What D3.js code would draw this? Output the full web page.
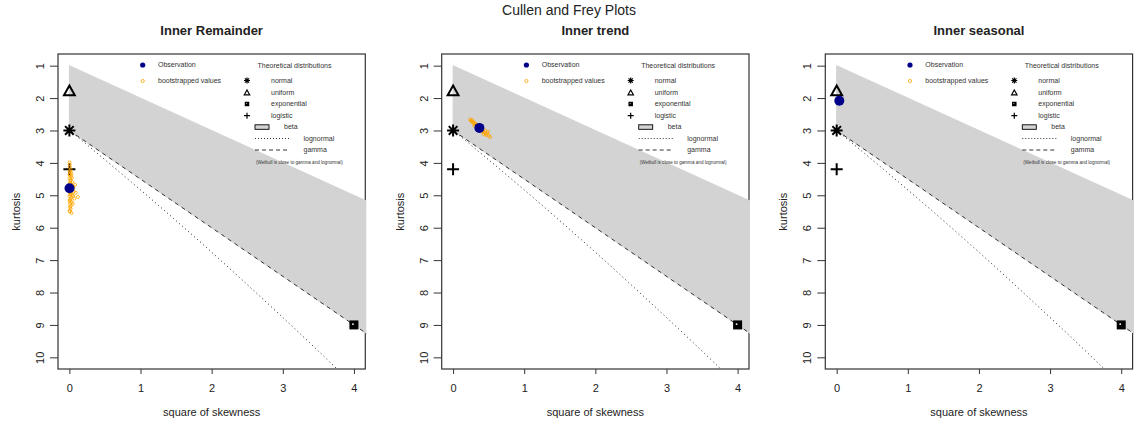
<!DOCTYPE html>
<html>
<head>
<meta charset="utf-8">
<script src="https://cdn.jsdelivr.net/npm/d3@7"></script>
<style>
  body { margin: 0; background: #fff; }
  text { font-family: "Liberation Sans", Arial, sans-serif; }
</style>
</head>
<body>
<div id="chart"></div>
<script>
// ---- data ----
var mainTitle = "Cullen and Frey Plots";
var panelTitles = ["Inner Remainder", "Inner trend", "Inner seasonal"];
var xTicks = [0, 1, 2, 3, 4];
var yTicks = [1, 2, 3, 4, 5, 6, 7, 8, 9, 10];

// observed [square of skewness, kurtosis] per panel
var observations = [[0.002, 4.78], [0.37, 2.92], [0.037, 2.08]];

// bootstrapped values per panel
var bootRemainder = [[0.002,4.35],[0.010,4.62],[0.004,4.91],[0.021,5.08],[0.001,4.48],[0.015,4.77],[0.033,5.21],[0.006,4.12],
  [0.027,4.95],[0.009,5.36],[0.045,4.70],[0.003,5.48],[0.018,4.29],[0.052,5.02],[0.012,4.55],[0.002,3.98],[0.038,4.84],
  [0.007,5.15],[0.024,4.41],[0.060,4.88],[0.011,5.27],[0.004,4.66],[0.030,5.55],[0.016,4.20],[0.001,5.03],[0.042,4.59],
  [0.008,4.79],[0.020,5.33],[0.070,5.10],[0.005,4.38],[0.026,4.72],[0.013,4.97],[0.003,5.19],[0.035,4.46],[0.090,4.92],
  [0.017,5.42],[0.006,4.05],[0.048,5.26],[0.010,4.86],[0.022,4.64],[0.120,5.05],[0.002,4.74],[0.031,4.33],[0.014,5.12],
  [0.056,4.78],[0.008,5.50],[0.019,4.52],[0.004,4.25],[0.039,5.00],[0.080,4.68]];
var bootTrend = [[0.25,2.70],[0.28,2.74],[0.30,2.80],[0.27,2.68],[0.33,2.86],[0.35,2.88],[0.31,2.78],[0.38,2.95],[0.40,2.98],
  [0.42,3.02],[0.36,2.84],[0.44,3.06],[0.46,3.10],[0.48,3.08],[0.50,3.16],[0.41,3.04],[0.37,2.92],[0.29,2.76],[0.45,3.00],
  [0.52,3.20],[0.34,2.90],[0.39,2.90],[0.43,3.12],[0.26,2.72],[0.32,2.82],[0.47,3.14],[0.24,2.66],[0.49,3.04],[0.36,2.98],[0.30,2.86]];
var bootSeasonal = [[0.02,2.03],[0.04,2.10],[0.03,2.06],[0.05,2.08],[0.03,2.12],[0.04,2.04]];
var bootValues = [bootRemainder, bootTrend, bootSeasonal];

// theoretical distributions
var distNames = ["normal", "uniform", "exponential", "logistic"];
var distSymbols = ["asterisk", "triangle", "squarex", "plus"];
var distPoints = [[0, 3], [0, 1.8], [4, 9], [0, 4.2]];

// beta region edges, gamma line and lognormal curve
var betaTop = [[0, 1], [4.4, 5.4]];
var betaBottom = [[0, 3], [4.4, 9.6]];
var gammaLine = [[0, 3], [4.4, 9.6]];
var lognormalLine = [[0,3],[0.091,3.16],[0.465,3.84],[0.961,4.76],[1.488,5.76],[2.048,6.85],[2.641,8.04],
  [3.267,9.32],[3.659,10.14],[3.928,10.71]];

// ---- layout ----
var W = 1138, H = 425;
var panelLeft = [58, 441.7, 825.3];
var plotTop = 54, pw = 307.3, ph = 315;
var ink = "#333";

var svg = d3.select("#chart").append("svg")
  .attr("width", W).attr("height", H);

svg.append("text")
  .attr("x", W / 2).attr("y", 15)
  .attr("text-anchor", "middle")
  .style("font-size", "14px").style("fill", "#222")
  .text(mainTitle);

var x = d3.scaleLinear().domain([-0.16, 4.16]).range([0, pw]);
var y = d3.scaleLinear().domain([0.64, 10.36]).range([0, ph]);

var line = d3.line().x(function (d) { return x(d[0]); }).y(function (d) { return y(d[1]); });

function drawSymbol(g, type, cx, cy, s, sw, big) {
  var p = g.append("g").attr("transform", "translate(" + cx + "," + cy + ")")
    .style("stroke", "#000").style("stroke-width", sw).style("fill", "none");
  if (type == "asterisk") {
    p.append("path").attr("d", "M" + (-s) + ",0H" + s + "M0," + (-s) + "V" + s
      + "M" + (-s * 0.72) + "," + (-s * 0.72) + "L" + (s * 0.72) + "," + (s * 0.72)
      + "M" + (-s * 0.72) + "," + (s * 0.72) + "L" + (s * 0.72) + "," + (-s * 0.72));
  } else if (type == "triangle") {
    p.append("path").attr("d", "M0," + (-s) + "L" + (s * 0.9) + "," + (s * 0.6) + "L" + (-s * 0.9) + "," + (s * 0.6) + "Z");
  } else if (type == "squarex") {
    var h = s * 0.75;
    p.append("rect").attr("x", -h).attr("y", -h).attr("width", 2 * h).attr("height", 2 * h)
      .style("fill", "#000").style("stroke", "none");
    // thick strokes leave only a speck of white inside
    p.append("rect").attr("x", -h * 0.4).attr("y", -h * 0.35).attr("width", h * 0.35).attr("height", h * 0.35)
      .style("fill", "#fff").style("stroke", "none");
  } else if (type == "plus") {
    p.append("path").attr("d", "M" + (-s) + ",0H" + s + "M0," + (-s) + "V" + s);
  }
}

panelTitles.forEach(function (title, i) {
  var g = svg.append("g").attr("transform", "translate(" + panelLeft[i] + "," + plotTop + ")");

  g.append("text")
    .attr("x", pw / 2).attr("y", 35 - plotTop)
    .attr("text-anchor", "middle")
    .style("font-size", "13px").style("font-weight", "bold").style("fill", "#222")
    .text(title);

  // box
  g.append("rect").attr("width", pw).attr("height", ph)
    .style("fill", "none").style("stroke", ink).style("stroke-width", 1.2);

  // clip
  var cid = "clip" + i;
  g.append("clipPath").attr("id", cid).append("rect")
    .attr("x", 0).attr("y", 0).attr("width", pw + 1).attr("height", ph);
  var plot = g.append("g").attr("clip-path", "url(#" + cid + ")");

  // beta region
  plot.append("path")
    .attr("d", line(betaTop.concat(betaBottom.slice().reverse())) + "Z")
    .style("fill", "#d3d3d3").style("stroke", "#d3d3d3");
  // gamma
  plot.append("path").attr("d", line(gammaLine))
    .style("fill", "none").style("stroke", "#222").style("stroke-width", 0.9)
    .style("stroke-dasharray", "4,4");
  // lognormal
  plot.append("path").attr("d", d3.line().curve(d3.curveMonotoneX)
      .x(function (d) { return x(d[0]); }).y(function (d) { return y(d[1]); })(lognormalLine))
    .style("fill", "none").style("stroke", "#222").style("stroke-width", 1)
    .style("stroke-dasharray", "1,3");

  // x axis
  var xa = g.append("g").attr("transform", "translate(0," + ph + ")")
    .call(d3.axisBottom(x).tickValues(xTicks).tickSize(5).tickPadding(10).tickFormat(d3.format("d")));
  xa.select(".domain").remove();
  xa.selectAll("line").style("stroke", ink);
  xa.selectAll("text").style("font-size", "11px").style("fill", "#222")
    .style("font-family", '"Liberation Sans", Arial, sans-serif');

  // y axis
  var ya = g.append("g")
    .call(d3.axisLeft(y).tickValues(yTicks).tickSize(8).tickFormat(d3.format("d")));
  ya.select(".domain").remove();
  ya.selectAll("line").style("stroke", ink);
  ya.selectAll("text")
    .attr("x", null).attr("dy", null)
    .attr("transform", "translate(-14,0) rotate(-90)")
    .attr("text-anchor", "middle")
    .style("font-size", "11px").style("fill", "#222")
    .style("font-family", '"Liberation Sans", Arial, sans-serif');

  g.append("text")
    .attr("x", pw / 2).attr("y", 415.5 - plotTop)
    .attr("text-anchor", "middle")
    .style("font-size", "11px").style("fill", "#222")
    .text("square of skewness");
  g.append("text")
    .attr("transform", "translate(" + (20 - 58) + "," + (211.7 - plotTop) + ") rotate(-90)")
    .attr("text-anchor", "middle")
    .style("font-size", "11px").style("fill", "#222")
    .text("kurtosis");

  // legends
  var lg = g.append("g").style("font-size", "7px").style("fill", "#333");
  lg.append("circle").attr("cx", 84.7).attr("cy", 11).attr("r", 2.6).style("fill", "#00008b");
  lg.append("text").attr("x", 100).attr("y", 11).attr("dy", "0.35em").text("Observation");
  lg.append("circle").attr("cx", 84.7).attr("cy", 27).attr("r", 1.6)
    .style("fill", "none").style("stroke", "orange").style("stroke-width", 0.8);
  lg.append("text").attr("x", 100).attr("y", 27).attr("dy", "0.35em").text("bootstrapped values");

  lg.append("text").attr("x", 199.5).attr("y", 11.5).attr("dy", "0.35em").text("Theoretical distributions");
  var rowY = [26.5, 39, 50, 61.7];
  distNames.forEach(function (nm, k) {
    drawSymbol(lg, distSymbols[k], 189, rowY[k], 3, 1.2);
    lg.append("text").attr("x", 213).attr("y", rowY[k]).attr("dy", "0.35em").text(nm);
  });
  lg.append("rect").attr("x", 197).attr("y", 70.8).attr("width", 14).attr("height", 4.5)
    .style("fill", "#d3d3d3").style("stroke", "#000").style("stroke-width", 0.9);
  lg.append("text").attr("x", 226).attr("y", 73).attr("dy", "0.35em").text("beta");
  lg.append("line").attr("x1", 197).attr("x2", 232).attr("y1", 84.5).attr("y2", 84.5)
    .style("stroke", "#000").style("stroke-width", 0.8).style("stroke-dasharray", "1,2");
  lg.append("text").attr("x", 245.5).attr("y", 84.5).attr("dy", "0.35em").text("lognormal");
  lg.append("line").attr("x1", 197).attr("x2", 232).attr("y1", 96).attr("y2", 96)
    .style("stroke", "#000").style("stroke-width", 0.8).style("stroke-dasharray", "4,3");
  lg.append("text").attr("x", 245.5).attr("y", 96).attr("dy", "0.35em").text("gamma");
  lg.append("text").attr("x", 198).attr("y", 108.5).attr("dy", "0.35em")
    .style("font-size", "4.6px").text("(Weibull is close to gamma and lognormal)");

  // theoretical points
  distPoints.forEach(function (d, k) {
    drawSymbol(g, distSymbols[k], x(d[0]), y(d[1]), 6, 2);
  });

  // bootstrapped values
  g.append("g").selectAll("circle").data(bootValues[i]).enter().append("circle")
    .attr("cx", function (d) { return x(d[0]); })
    .attr("cy", function (d) { return y(d[1]); })
    .attr("r", 1.5)
    .style("fill", "none").style("stroke", "orange").style("stroke-width", 0.8);

  // observation
  g.append("circle")
    .attr("cx", x(observations[i][0])).attr("cy", y(observations[i][1]))
    .attr("r", 5).style("fill", "#00008b");
});
</script>
</body>
</html>
